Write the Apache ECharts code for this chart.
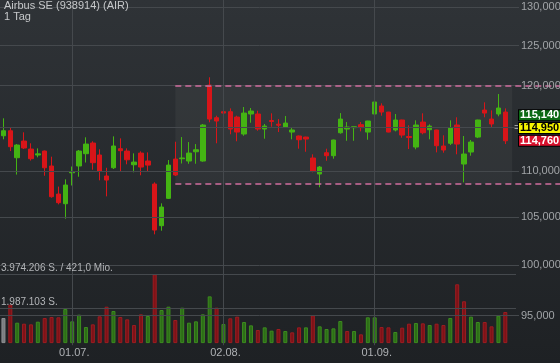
<!DOCTYPE html>
<html><head><meta charset="utf-8">
<script src="https://cdn.jsdelivr.net/npm/echarts@6.0.0/dist/echarts.min.js"></script>
<style>html,body{margin:0;padding:0;background:#26292d;overflow:hidden}#c{width:560px;height:363px}</style>
</head><body><div id="c"></div>
<script>
// ---- data (EUR, trading days 17.06.2021 - 28.09.2021) ----
const dates = ['17.06.','18.06.','21.06.','22.06.','23.06.','24.06.','25.06.','28.06.','29.06.','30.06.',
'01.07.','02.07.','05.07.','06.07.','07.07.','08.07.','09.07.','12.07.','13.07.','14.07.','15.07.','16.07.','19.07.','20.07.','21.07.','22.07.','23.07.','26.07.','27.07.','28.07.','29.07.','30.07.',
'02.08.','03.08.','04.08.','05.08.','06.08.','09.08.','10.08.','11.08.','12.08.','13.08.','16.08.','17.08.','18.08.','19.08.','20.08.','23.08.','24.08.','25.08.','26.08.','27.08.','30.08.','31.08.',
'01.09.','02.09.','03.09.','06.09.','07.09.','08.09.','09.09.','10.09.','13.09.','14.09.','15.09.','16.09.','17.09.','20.09.','21.09.','22.09.','23.09.','24.09.','27.09.','28.09.'];
const open  = [114.05,114.63,111.53,113.44,112.52,111.84,112.29,110.60,107.49,106.44,109.84,110.60,111.99,113.21,111.84,109.48,110.40,112.56,112.29,110.74,112.06,111.16,108.59,104.09,107.02,111.38,111.42,111.16,112.21,111.16,120.08,116.16,116.87,116.87,116.24,114.25,116.60,116.60,114.83,115.83,115.40,115.07,114.48,114.02,113.90,111.50,109.70,112.10,111.76,114.40,114.83,114.99,115.34,114.48,116.60,117.55,116.83,114.72,115.89,113.96,112.75,115.65,114.75,114.72,112.87,113.18,115.30,110.82,112.18,113.90,117.07,116.00,116.60,116.83];
const high  = [116.09,115.03,113.09,114.45,113.18,112.60,112.35,111.65,108.31,109.11,110.54,112.41,113.87,113.41,112.49,110.40,113.98,113.75,112.60,112.03,112.26,112.14,108.78,106.48,111.27,113.36,113.90,113.32,113.09,115.42,121.03,116.40,117.94,117.27,116.40,117.43,117.31,116.99,115.42,116.68,116.00,116.36,114.95,114.08,113.94,111.92,110.60,112.56,113.60,116.71,115.65,115.12,115.65,115.80,118.06,117.87,116.85,116.60,115.92,115.27,115.85,116.68,115.38,114.75,114.10,115.85,116.21,114.02,113.56,115.92,117.99,117.03,118.99,117.27];
const low   = [113.64,112.29,109.64,112.52,111.21,111.58,109.51,107.09,106.37,104.83,108.43,109.40,110.99,110.18,109.00,107.24,110.26,110.03,110.79,109.89,109.56,109.96,103.18,103.56,106.95,109.48,110.88,110.85,110.85,111.08,115.62,113.18,115.69,114.22,113.41,114.05,115.57,114.63,113.71,115.10,114.48,115.03,113.64,112.56,112.21,109.89,108.23,111.19,111.42,114.29,113.47,113.47,114.56,113.59,116.00,116.40,114.45,114.56,113.82,112.52,112.49,114.22,113.64,112.14,112.10,112.98,111.92,108.78,111.76,113.78,116.21,115.03,116.33,113.09];
const close = [114.63,112.79,112.98,112.64,111.42,111.97,110.40,107.20,106.55,108.48,109.92,112.29,113.09,110.97,109.98,109.03,112.87,112.33,111.30,111.04,110.48,110.70,103.63,106.08,110.70,109.59,111.50,112.06,112.44,115.30,116.00,115.77,116.71,114.83,114.48,116.71,116.95,114.83,115.18,115.71,115.28,115.53,114.72,113.59,113.67,110.03,110.48,111.76,113.56,116.00,115.07,115.10,114.99,115.77,118.03,116.83,114.48,115.89,114.13,113.84,115.30,114.40,115.18,112.90,112.41,114.95,113.09,111.95,113.32,115.89,116.71,115.42,117.31,113.47];
const volume = [1450000,2219000,1180000,1121000,1083000,1237000,1450000,1508000,1489000,1970000,
 1257000,1642000,929000,1083000,1547000,2103000,1854000,1508000,1373000,1044000,
 1661000,1566000,3974206,1912000,2103000,1334000,2045000,1180000,1257000,1661000,
 2700000,2045000,1102000,1431000,1527000,1218000,1025000,756000,910000,718000,
 814000,698000,622000,910000,910000,1604000,968000,814000,852000,1276000,
 698000,698000,506000,1489000,1489000,929000,910000,641000,891000,1121000,
 1160000,1141000,1044000,1121000,1044000,1450000,3397000,2416000,1527000,1218000,
 1218000,968000,1585000,1797000];
// 1 = up (green), -1 = down (red), 0 = neutral (grey)
const volDir = [0,-1,1,-1,-1,1,-1,-1,-1,1,1,1,1,-1,-1,-1,1,-1,-1,-1,-1,1,-1,1,1,-1,1,1,1,1,1,-1,1,-1,-1,1,1,-1,1,1,-1,1,-1,-1,1,-1,1,1,1,1,-1,1,-1,1,1,-1,-1,1,-1,-1,1,-1,1,-1,-1,1,-1,-1,1,1,-1,-1,1,-1];
const priceTicks = [95,100,105,110,115,120,125,130];
const channelStart = 25;           // index of first day of the channel
const channelLevels = [120.0, 108.6];
const quoteValues = [115.14, 114.95, 114.76];   // bid / last / ask boxes
const turnoverMio = '421,0';
const title = 'Airbus SE (938914) (AIR)';
const subtitle = '1 Tag';

// ---- styling / layout ----
const FONT = '"Liberation Sans", Arial, sans-serif';
const GREEN = '#44b413', RED = '#d81519';
const GRID = '#45494d';
const PINK = '#cf6e9f';
const BAND = 6.875;
const EXTRA = 8;
const cats = dates.concat(Array.from({length: EXTRA}, (_, k) => 'x' + k));
const gridW = cats.length * BAND;
const labelIdx = dates.map((d, i) => (i > 0 && d.slice(3) !== dates[i - 1].slice(3)) ? i : -1).filter(i => i >= 0);
const fmtPrice = v => v.toFixed(3).replace('.', ',');
const fmtVol = n => String(Math.round(n)).replace(/\B(?=(\d{3})+(?!\d))/g, '.');
const volMax = Math.max(...volume);

const candles = dates.map((d, i) => [open[i], close[i], low[i], high[i]]);
const volData = volume.map((v, i) => {
  const d = volDir[i];
  return {value: v, itemStyle: {
    color: d > 0 ? '#2d6d17' : d < 0 ? '#7e1217' : '#7b7d80',
    borderColor: d > 0 ? '#3c8c1f' : d < 0 ? '#9d1c21' : '#8d8f92'}};
});

const HIDDEN = {color: 'rgba(0,0,0,0)', width: 1, type: 'solid', opacity: 1};
const ml = [];
priceTicks.forEach(v => ml.push([
  {coord: [0, v], x: 0, lineStyle: {color: GRID, width: 1, type: 'solid'},
   label: {show: true, position: 'end', distance: 2, formatter: fmtPrice(v), color: '#a1a4a7', fontSize: 11, fontFamily: FONT}},
  {coord: [0, v], x: 519}]));
labelIdx.forEach(i => ml.push({xAxis: i, lineStyle: {color: GRID, width: 1, type: 'solid'}, label: {show: false}}));
channelLevels.forEach(v => ml.push([
  {coord: [channelStart, v], lineStyle: {color: PINK, width: 1.5, type: [6, 4]}, label: {show: false}},
  {coord: [cats.length - 1, v]}]));
ml.push([
  {coord: [0, quoteValues[1]], x: 511, lineStyle: HIDDEN,
   label: {show: true, opacity: 1, position: 'end', distance: 2, formatter: '=', color: '#a1a4a7', fontSize: 12, fontFamily: FONT}},
  {coord: [0, quoteValues[1]], x: 512}]);
const box = (bg, fg) => ({color: fg, backgroundColor: bg, fontWeight: 'bold', fontSize: 11, fontFamily: FONT,
  borderColor: '#000', borderWidth: 1, padding: [0, 0, 0, 1], width: 42, height: 10, lineHeight: 12.7});
ml.push([
  {coord: [0, quoteValues[1]], x: 517, lineStyle: HIDDEN,
   label: {show: true, opacity: 1, position: 'end', distance: 1,
     formatter: '{g|' + fmtPrice(quoteValues[0]) + '}\n{y|' + fmtPrice(quoteValues[1]) + '}\n{r|' + fmtPrice(quoteValues[2]) + '}',
     rich: {g: box('#0c6a14', '#ffffff'), y: box('#f6f600', '#000000'), r: box('#d8102c', '#ffffff')}}},
  {coord: [0, quoteValues[1]], x: 518}]);

const vml = [
  [{coord: [0, volMax], x: 0, lineStyle: {color: GRID, width: 1, type: 'solid'},
    label: {show: true, position: 'insideStartTop', distance: [1, 1], formatter: fmtVol(volMax) + ' S. / ' + turnoverMio + ' Mio.',
      color: '#b3b5b8', fontSize: 10, fontFamily: FONT}},
   {coord: [0, volMax], x: 516}],
  [{coord: [0, volMax / 2], x: 0, lineStyle: {color: GRID, width: 1, type: 'solid'},
    label: {show: true, position: 'insideStartTop', distance: [1, 1], formatter: fmtVol(volMax / 2) + ' S.',
      color: '#b3b5b8', fontSize: 10, fontFamily: FONT}},
   {coord: [0, volMax / 2], x: 516}]
];

const chart = echarts.init(document.getElementById('c'), null, {renderer: 'canvas'});
chart.setOption({
  animation: false,
  backgroundColor: {type: 'linear', x: 0, y: 0, x2: 0, y2: 1,
    colorStops: [{offset: 0, color: '#2f3337'}, {offset: 1, color: '#1e2124'}]},
  title: {text: title, subtext: subtitle, left: 4, top: 0, padding: 0, itemGap: 0,
    textStyle: {fontSize: 11, fontWeight: 'normal', color: '#c6c8ca', fontFamily: FONT, lineHeight: 12},
    subtextStyle: {fontSize: 11, color: '#c6c8ca', fontFamily: FONT, lineHeight: 9}},
  grid: [
    {left: 0, top: 0, width: gridW, height: 345.2, containLabel: false, outerBoundsMode: 'none'},
    {left: 0, top: 274.3, width: gridW, height: 68.8, containLabel: false, outerBoundsMode: 'none'}
  ],
  xAxis: [
    {type: 'category', gridIndex: 0, data: cats, boundaryGap: true, show: false},
    {type: 'category', gridIndex: 1, data: cats, boundaryGap: true,
      axisLine: {show: false}, axisTick: {show: false}, splitLine: {show: false},
      axisLabel: {show: true, interval: (i) => labelIdx.indexOf(i) >= 0, color: '#aeb1b4', fontSize: 11,
        fontFamily: FONT, margin: 4.5, padding: [0, 0, 0, 4]}}
  ],
  yAxis: [
    {type: 'log', logBase: 10, gridIndex: 0, min: 92.188, max: 130.918, show: false},
    {type: 'value', gridIndex: 1, min: 0, max: volMax, show: false}
  ],
  series: [
    {type: 'bar', xAxisIndex: 1, yAxisIndex: 1, data: volData, barWidth: 4,
      itemStyle: {borderWidth: 1}, silent: true,
      markLine: {silent: true, symbol: ['none', 'none'], animation: false, data: vml}},
    {type: 'candlestick', xAxisIndex: 0, yAxisIndex: 0, data: candles, barWidth: 5, clip: false, silent: true,
      itemStyle: {color: GREEN, color0: RED, borderColor: GREEN, borderColor0: RED, borderWidth: 1},
      markArea: {silent: true, itemStyle: {color: 'rgba(255,255,255,0.045)'},
        data: [[{coord: [channelStart, channelLevels[0]]}, {coord: [dates.length, channelLevels[1]]}]]},
      markLine: {silent: true, symbol: ['none', 'none'], animation: false, data: ml}}
  ]
});
</script></body></html>
